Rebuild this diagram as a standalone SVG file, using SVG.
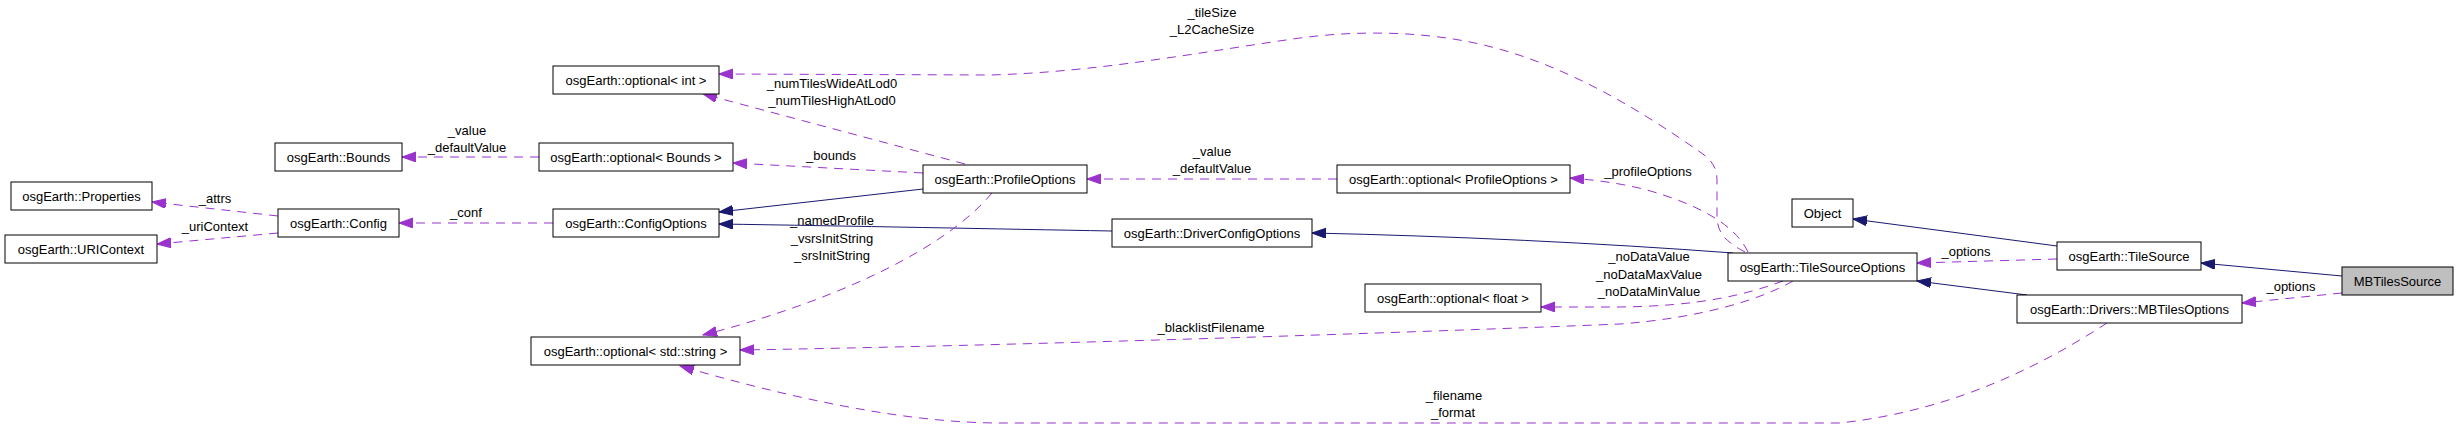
<svg xmlns="http://www.w3.org/2000/svg" width="2459" height="428" viewBox="0 0 2459 428">
<style>
.n rect{fill:#fff;stroke:#000;stroke-width:1}
.n text,.lbl{font-family:"Liberation Sans",Arial,sans-serif;font-size:13px;fill:#000;text-anchor:middle}
.d{fill:none;stroke:#9a32cd;stroke-width:1;stroke-dasharray:9,7;marker-end:url(#ap)}
.s{fill:none;stroke:#191970;stroke-width:1;marker-end:url(#ab)}
</style>
<defs>
<marker id="ap" markerUnits="userSpaceOnUse" markerWidth="15" markerHeight="11" refX="14" refY="5" orient="auto"><path d="M0,0 L14,5 L0,10 z" fill="#9a32cd" stroke="#9a32cd" stroke-width="1" stroke-dasharray="none"/></marker>
<marker id="ab" markerUnits="userSpaceOnUse" markerWidth="15" markerHeight="11" refX="14" refY="5" orient="auto"><path d="M0,0 L14,5 L0,10 z" fill="#191970" stroke="#191970" stroke-width="1"/></marker>
</defs>
<rect width="2459" height="428" fill="#fff"/>
<g id="edges">
<path class="d" d="M278,216 L152,202"/>
<path class="d" d="M278,233 L157,244"/>
<path class="d" d="M539,157 L402,157"/>
<path class="d" d="M553,223 L399,223"/>
<path class="s" d="M923,189 L719,212"/>
<path class="s" d="M1112,231 C1000,229 850,226 719,224"/>
<path class="d" d="M965,164 L703,94"/>
<path class="d" d="M923,173 L733,163"/>
<path class="d" d="M992,193 C940,255 820,305 703,335"/>
<path class="d" d="M1337,179 L1087,179"/>
<path class="d" d="M1748,252 C1735,225 1700,205 1647,190 C1620,183 1595,180 1570,178"/>
<path class="d" d="M1745,252 C1722,240 1717,230 1717,215 L1717,180 C1717,168 1712,160 1700,152 C1640,110 1560,60 1470,42 C1420,32 1360,30 1300,38 C1200,52 1100,72 990,75 L719,74"/>
<path class="s" d="M1733,253 C1600,243 1450,236 1312,233"/>
<path class="d" d="M1783,281 C1745,295 1700,306 1620,307 L1541,307"/>
<path class="d" d="M1793,281 C1760,300 1700,318 1620,324 C1400,333 1000,346 740,350"/>
<path class="s" d="M2057,246 L1853,219"/>
<path class="d" d="M2057,259 L1917,263"/>
<path class="s" d="M2027,295 L1917,281"/>
<path class="s" d="M2342,276 L2201,263"/>
<path class="d" d="M2342,293 L2242,303"/>
<path class="d" d="M2107,323 C2050,360 1960,410 1840,423 L1000,423 C900,423 780,395 680,366"/>
<text class="lbl" x="215" y="203">_attrs</text>
<text class="lbl" x="215" y="231">_uriContext</text>
<text class="lbl" x="467" y="135">_value</text>
<text class="lbl" x="467" y="152">_defaultValue</text>
<text class="lbl" x="466" y="217">_conf</text>
<text class="lbl" x="832" y="88">_numTilesWideAtLod0</text>
<text class="lbl" x="832" y="105">_numTilesHighAtLod0</text>
<text class="lbl" x="831" y="160">_bounds</text>
<text class="lbl" x="832" y="225">_namedProfile</text>
<text class="lbl" x="832" y="243">_vsrsInitString</text>
<text class="lbl" x="832" y="260">_srsInitString</text>
<text class="lbl" x="1212" y="17">_tileSize</text>
<text class="lbl" x="1212" y="34">_L2CacheSize</text>
<text class="lbl" x="1212" y="156">_value</text>
<text class="lbl" x="1212" y="173">_defaultValue</text>
<text class="lbl" x="1648" y="176">_profileOptions</text>
<text class="lbl" x="1649" y="261">_noDataValue</text>
<text class="lbl" x="1649" y="279">_noDataMaxValue</text>
<text class="lbl" x="1649" y="296">_noDataMinValue</text>
<text class="lbl" x="1211" y="332">_blacklistFilename</text>
<text class="lbl" x="1454" y="400">_filename</text>
<text class="lbl" x="1453" y="417">_format</text>
<text class="lbl" x="1966" y="256">_options</text>
<text class="lbl" x="2291" y="291">_options</text>
</g>
<g id="n_properties" class="n"><rect x="11" y="182" width="141" height="28"/><text x="81.5" y="200.5">osgEarth::Properties</text></g>
<g id="n_uricontext" class="n"><rect x="5" y="235" width="152" height="28"/><text x="81" y="253.5">osgEarth::URIContext</text></g>
<g id="n_bounds" class="n"><rect x="275" y="143" width="127" height="28"/><text x="338.5" y="161.5">osgEarth::Bounds</text></g>
<g id="n_config" class="n"><rect x="278" y="209" width="121" height="28"/><text x="338.5" y="227.5">osgEarth::Config</text></g>
<g id="n_opt_int" class="n"><rect x="553" y="66" width="166" height="28"/><text x="636" y="84.5">osgEarth::optional&lt; int &gt;</text></g>
<g id="n_opt_bounds" class="n"><rect x="539" y="143" width="194" height="28"/><text x="636" y="161.5">osgEarth::optional&lt; Bounds &gt;</text></g>
<g id="n_configoptions" class="n"><rect x="553" y="209" width="166" height="28"/><text x="636" y="227.5">osgEarth::ConfigOptions</text></g>
<g id="n_opt_string" class="n"><rect x="531" y="337" width="209" height="28"/><text x="635.5" y="355.5">osgEarth::optional&lt; std::string &gt;</text></g>
<g id="n_profileoptions" class="n"><rect x="923" y="165" width="164" height="28"/><text x="1005" y="183.5">osgEarth::ProfileOptions</text></g>
<g id="n_opt_profileoptions" class="n"><rect x="1337" y="165" width="233" height="28"/><text x="1453.5" y="183.5">osgEarth::optional&lt; ProfileOptions &gt;</text></g>
<g id="n_driverconfigoptions" class="n"><rect x="1112" y="219" width="200" height="28"/><text x="1212" y="237.5">osgEarth::DriverConfigOptions</text></g>
<g id="n_opt_float" class="n"><rect x="1365" y="284" width="176" height="28"/><text x="1453" y="302.5">osgEarth::optional&lt; float &gt;</text></g>
<g id="n_tilesourceoptions" class="n"><rect x="1728" y="253" width="189" height="28"/><text x="1822.5" y="271.5">osgEarth::TileSourceOptions</text></g>
<g id="n_object" class="n"><rect x="1792" y="199" width="61" height="28"/><text x="1822.5" y="217.5">Object</text></g>
<g id="n_tilesource" class="n"><rect x="2057" y="242" width="144" height="28"/><text x="2129" y="260.5">osgEarth::TileSource</text></g>
<g id="n_mbtilesoptions" class="n"><rect x="2017" y="295" width="225" height="28"/><text x="2129.5" y="313.5">osgEarth::Drivers::MBTilesOptions</text></g>
<g id="n_mbtilessource" class="n"><rect x="2342" y="267" width="111" height="28" style="fill:#bfbfbf"/><text x="2397.5" y="285.5">MBTilesSource</text></g>
</svg>
